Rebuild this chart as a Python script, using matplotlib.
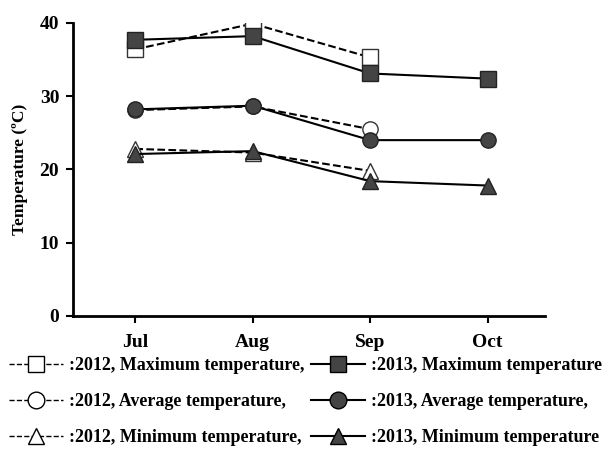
import matplotlib.pyplot as plt
from matplotlib.lines import Line2D

# dados
meses = ['Jul', 'Aug', 'Sep', 'Oct']
max_2012 = [36.4, 39.9, 35.3]
med_2012 = [28.1, 28.6, 25.5]
min_2012 = [22.8, 22.3, 19.8]
max_2013 = [37.7, 38.2, 33.1, 32.4]
med_2013 = [28.2, 28.7, 24.0, 24.0]
min_2013 = [22.1, 22.5, 18.4, 17.8]

plt.rcParams['font.family'] = ['Liberation Serif', 'DejaVu Serif']
plt.rcParams['font.weight'] = 'bold'

cinza = '#444444'
fig = plt.figure(figsize=(6.09, 4.5), dpi=100)
ax = fig.add_axes([0.12, 0.298, 0.775, 0.651])

x12 = range(len(max_2012))
x13 = range(len(max_2013))

# 2012 tracejado, marcadores vazios
for vals, m in [(max_2012, 's'), (med_2012, 'o'), (min_2012, '^')]:
    ax.plot(x12, vals, color='black', lw=1.5, ls='--', marker=m, ms=11,
            mfc='white', mec='#333333', mew=1, zorder=2)
# 2013 linha cheia, marcadores preenchidos
for vals, m in [(max_2013, 's'), (med_2013, 'o'), (min_2013, '^')]:
    ax.plot(x13, vals, color='black', lw=1.5, ls='-', marker=m, ms=11,
            mfc=cinza, mec='#222222', mew=1, zorder=3)

ax.set_xlim(-0.53, 3.49)
ax.set_ylim(0, 40)
ax.set_yticks([0, 10, 20, 30, 40])
ax.set_xticks(range(len(meses)))
ax.set_xticklabels(meses)
ax.tick_params(labelsize=14, width=1.5, length=5)
ax.tick_params(axis='x', pad=8)
ax.tick_params(axis='y', pad=5)
ax.set_ylabel('Temperature (\u00baC)', fontsize=12.5, fontweight='bold', labelpad=8)
for s in ['top', 'right']:
    ax.spines[s].set_visible(False)
for s in ['left', 'bottom']:
    ax.spines[s].set_linewidth(2)
for lb in ax.get_xticklabels() + ax.get_yticklabels():
    lb.set_fontweight('bold')

# legenda montada manualmente
handles = [
    Line2D([], [], color='black', ls='--', lw=1, marker='s', ms=12, mfc='white', mec='black'),
    Line2D([], [], color='black', ls='--', lw=1, marker='o', ms=12, mfc='white', mec='black'),
    Line2D([], [], color='black', ls='--', lw=1, marker='^', ms=12, mfc='white', mec='black'),
    Line2D([], [], color='black', ls='-', lw=1.5, marker='s', ms=12, mfc=cinza, mec='black'),
    Line2D([], [], color='black', ls='-', lw=1.5, marker='o', ms=12, mfc=cinza, mec='black'),
    Line2D([], [], color='black', ls='-', lw=1.5, marker='^', ms=12, mfc=cinza, mec='black'),
]
labels = [':2012, Maximum temperature,', ':2012, Average temperature,',
          ':2012, Minimum temperature,', ':2013, Maximum temperature',
          ':2013, Average temperature,', ':2013, Minimum temperature']
fig.legend(handles, labels, ncol=2, loc='lower left', bbox_to_anchor=(0.0, -0.012),
           frameon=False, fontsize=13, handlelength=3.0, handletextpad=0.3,
           columnspacing=0.4, labelspacing=1.05, borderaxespad=0.1)

fig.savefig('out.png', dpi=100)
